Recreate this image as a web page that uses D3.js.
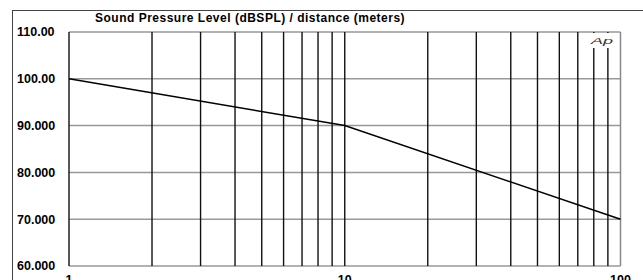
<!DOCTYPE html>
<html>
<head>
<meta charset="utf-8">
<script src="https://cdn.jsdelivr.net/npm/d3@7"></script>
<style>
  body { margin: 0; background: #fff; }
  svg { display: block; font-family: "Liberation Sans", Arial, sans-serif; }
</style>
</head>
<body>
<div id="chart"></div>
<script>
// data
const distance = [1, 10, 100];
const level = [100, 90, 70];
const yTicks = [60, 70, 80, 90, 100, 110];
const yTickLabels = ["60.000", "70.000", "80.000", "90.000", "100.00", "110.00"];
const xTicks = [1, 10, 100];
const xTickLabels = ["1", "10", "100"];
const title = "Sound Pressure Level (dBSPL) / distance (meters)";

const width = 643, height = 280;
const plotLeft = 69, plotRight = 620.5, plotTop = 32, plotBottom = 266;

const svg = d3.select('#chart').append('svg')
  .attr('width', width)
  .attr('height', height);

// outer frame
svg.append('rect')
  .attr('x', 12.5).attr('y', 10.5)
  .attr('width', 700).attr('height', 300)
  .attr('fill', 'none')
  .attr('stroke', '#444')
  .attr('stroke-width', 1);

const x = d3.scaleLog().domain([1, 100]).range([plotLeft, plotRight]);
const y = d3.scaleLinear().domain([60, 110]).range([plotBottom, plotTop]);

// horizontal grid
svg.append('g')
  .selectAll('line')
  .data(yTicks)
  .join('line')
  .attr('x1', plotLeft).attr('x2', plotRight)
  .attr('y1', d => y(d)).attr('y2', d => y(d))
  .attr('stroke', '#999')
  .attr('stroke-width', 1.5);

// vertical grid (log lines)
const minor = [];
[1, 10].forEach(dec => {
  for (let k = 2; k <= 9; k++) minor.push(dec * k);
});
minor.push(10);
svg.append('g')
  .selectAll('line')
  .data(minor)
  .join('line')
  .attr('x1', d => x(d)).attr('x2', d => x(d))
  .attr('y1', plotTop).attr('y2', plotBottom)
  .attr('stroke', '#111')
  .attr('stroke-width', 1.4);

// plot border
svg.append('line')
  .attr('x1', plotRight).attr('x2', plotRight).attr('y1', plotTop).attr('y2', plotBottom)
  .attr('stroke', '#888').attr('stroke-width', 1.5);
svg.append('line')
  .attr('x1', plotLeft).attr('x2', plotLeft).attr('y1', plotTop).attr('y2', plotBottom)
  .attr('stroke', '#111').attr('stroke-width', 1.4);

// "Ap" label with white backing
svg.append('rect')
  .attr('x', 589).attr('y', plotTop + 1)
  .attr('width', 27).attr('height', 15)
  .attr('fill', '#fff');
svg.append('text')
  .attr('transform', 'translate(602,43.5) scale(1.9,1)')
  .attr('text-anchor', 'middle')
  .attr('font-size', 9.5)
  .attr('font-style', 'italic')
  .attr('fill', '#333')
  .text('Ap');

// data line
svg.append('path')
  .datum(distance.map((d, i) => [d, level[i]]))
  .attr('fill', 'none')
  .attr('stroke', '#000')
  .attr('stroke-width', 1.5)
  .attr('d', d3.line().x(d => x(d[0])).y(d => y(d[1])));

// y labels
svg.append('g')
  .selectAll('text')
  .data(yTicks)
  .join('text')
  .attr('x', 17)
  .attr('y', d => y(d))
  .attr('dy', '0.35em')
  .attr('font-size', 12.5)
  .attr('font-weight', 'bold')
  .attr('fill', '#000')
  .text((d, i) => yTickLabels[i]);

// x labels
svg.append('g')
  .selectAll('text')
  .data(xTicks)
  .join('text')
  .attr('x', d => x(d))
  .attr('y', 284)
  .attr('text-anchor', 'middle')
  .attr('font-size', 12.5)
  .attr('font-weight', 'bold')
  .attr('fill', '#000')
  .text((d, i) => xTickLabels[i]);

// title
svg.append('text')
  .attr('x', 95).attr('y', 22)
  .attr('font-size', 12)
  .attr('font-weight', 'bold')
  .attr('letter-spacing', 0.5)
  .attr('fill', '#000')
  .text(title);
</script>
</body>
</html>
